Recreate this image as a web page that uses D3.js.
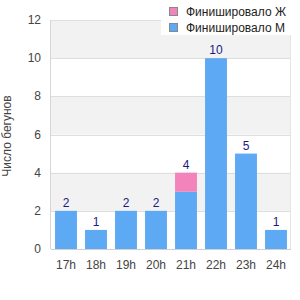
<!DOCTYPE html>
<html>
<head>
<meta charset="utf-8">
<script src="https://cdn.jsdelivr.net/npm/d3@7"></script>
<style>
body { margin: 0; background: #fff; }
svg { display: block; font-family: "Liberation Sans", Arial, sans-serif; }
</style>
</head>
<body>
<svg id="chart" width="300" height="300"></svg>
<script>
var hours = ['17h', '18h', '19h', '20h', '21h', '22h', '23h', '24h'];
var finishedM = [2, 1, 2, 2, 3, 10, 5, 1];
var finishedF = [0, 0, 0, 0, 1, 0, 0, 0];
var yTicks = [0, 2, 4, 6, 8, 10, 12];
var seriesNames = ['Финишировало Ж', 'Финишировало М'];
var seriesColors = ['#f283bb', '#5ea9f3'];

var svg = d3.select('#chart');
var pLeft = 51, pRight = 291, pTop = 20, pBottom = 249;

var x = d3.scaleBand().domain(hours).range([pLeft, pRight]).paddingInner(0.27).paddingOuter(0.135);
var y = d3.scaleLinear().domain([0, 12]).range([pBottom, pTop]);

// alternating bands
for (var i = 0; i < yTicks.length - 1; i++) {
    if (i % 2 == 1) {
        svg.append('rect')
            .attr('x', pLeft).attr('y', y(yTicks[i + 1]))
            .attr('width', pRight - pLeft).attr('height', y(yTicks[i]) - y(yTicks[i + 1]))
            .attr('fill', '#f2f2f2');
    }
}
svg.selectAll('.grid').data(yTicks.slice(1)).enter().append('line')
    .attr('x1', pLeft).attr('x2', pRight)
    .attr('y1', d => Math.round(y(d)) + 0.5).attr('y2', d => Math.round(y(d)) + 0.5)
    .attr('stroke', '#dedede');

// axes lines
svg.append('line').attr('x1', pLeft - 0.5).attr('x2', pLeft - 0.5).attr('y1', pTop).attr('y2', pBottom)
    .attr('stroke', '#d6d6d6');
svg.append('line').attr('x1', pRight - 0.5).attr('x2', pRight - 0.5).attr('y1', pTop).attr('y2', pBottom)
    .attr('stroke', '#e4e4e4');
svg.append('line').attr('x1', pLeft).attr('x2', pRight).attr('y1', pBottom + 0.5).attr('y2', pBottom + 0.5)
    .attr('stroke', '#d0d0d0');

var data = hours.map((h, i) => ({ h: h, m: finishedM[i], f: finishedF[i] }));

svg.selectAll('.barm').data(data).enter().append('rect')
    .attr('x', d => x(d.h)).attr('width', x.bandwidth())
    .attr('y', d => y(d.m)).attr('height', d => y(0) - y(d.m))
    .attr('fill', seriesColors[1]);
svg.selectAll('.barf').data(data.filter(d => d.f > 0)).enter().append('rect')
    .attr('x', d => x(d.h)).attr('width', x.bandwidth())
    .attr('y', d => y(d.m + d.f)).attr('height', d => y(d.m) - y(d.m + d.f))
    .attr('fill', seriesColors[0]);

svg.selectAll('.lbl').data(data).enter().append('text')
    .attr('x', d => x(d.h) + x.bandwidth() / 2).attr('y', d => y(d.m + d.f) - 4)
    .attr('text-anchor', 'middle').attr('font-size', 12).attr('fill', '#1a1a80')
    .text(d => d.m + d.f);

// y ticks
svg.selectAll('.yt').data(yTicks).enter().append('text')
    .attr('x', 41).attr('y', d => y(d) + 4)
    .attr('text-anchor', 'end').attr('font-size', 12).attr('fill', '#444')
    .text(d => d);

// x ticks
svg.selectAll('.xt').data(hours).enter().append('text')
    .attr('x', d => x(d) + x.bandwidth() / 2).attr('y', 269)
    .attr('text-anchor', 'middle').attr('font-size', 12).attr('fill', '#444')
    .text(d => d);

svg.append('text').attr('transform', 'translate(11,' + 136 + ') rotate(-90)')
    .attr('text-anchor', 'middle').attr('font-size', 12).attr('fill', '#444')
    .text('Число бегунов');

// legend
svg.append('rect').attr('x', 161).attr('y', 0).attr('width', 139).attr('height', 35).attr('fill', '#fff');
var lg = svg.selectAll('.lg').data(seriesNames).enter().append('g')
    .attr('transform', (d, i) => 'translate(169,' + (7 + i * 16) + ')');
lg.append('rect').attr('x', 0.5).attr('y', 0.5).attr('width', 8).attr('height', 8)
    .attr('fill', (d, i) => seriesColors[i]).attr('stroke', '#888');
lg.append('text').attr('x', 17).attr('y', 9).attr('font-size', 12).attr('fill', '#222')
    .text(d => d);
</script>
</body>
</html>
